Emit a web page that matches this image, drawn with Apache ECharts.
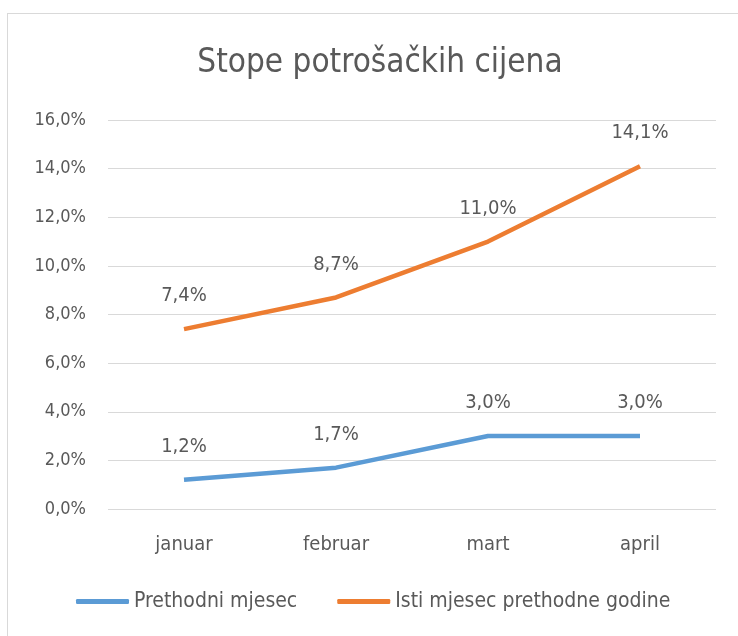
<!DOCTYPE html>
<html>
<head>
<meta charset="utf-8">
<script src="https://cdn.jsdelivr.net/npm/echarts@6/dist/echarts.min.js"></script>
<style>
html, body { margin: 0; padding: 0; background: #fff; }
#frame { position: absolute; left: 7px; top: 13px; width: 740px; height: 640px; border: 1px solid #d9d9d9; box-sizing: border-box; }
#chart { position: absolute; left: 0; top: 0; width: 738px; height: 636px; }
</style>
</head>
<body>
<div id="frame"></div>
<div id="chart"></div>
<script>
const months = ['januar', 'februar', 'mart', 'april']
const prethodniMjesec = [1.2, 1.7, 3.0, 3.0]
const istiMjesecPrethodneGodine = [7.4, 8.7, 11.0, 14.1]
const seriesNames = ['Prethodni mjesec', 'Isti mjesec prethodne godine']

const fontFam = '"Liberation Sans Narrow", "DejaVu Sans Condensed", "Noto Sans", sans-serif'
const fmt = v => v.toFixed(1).replace('.', ',') + '%'

const myChart = echarts.init(document.getElementById('chart'))
let option = {
    animation: false,
    textStyle: { fontFamily: fontFam, color: '#595959' },
    title: {
        text: 'Stope potrošačkih cijena',
        left: 375,
        textAlign: 'center',
        top: 42,
        textStyle: { fontFamily: fontFam, fontSize: 33, fontWeight: 'normal', color: '#595959' }
    },
    grid: { left: 108, right: 22, top: 120, bottom: 127 },
    legend: {
        bottom: 19,
        left: 71,
        itemWidth: 53,
        itemHeight: 5,
        itemGap: 40,
        icon: 'roundRect',
        textStyle: { fontFamily: fontFam, fontSize: 21, color: '#595959' },
        data: seriesNames
    },
    xAxis: {
        type: 'category',
        data: months,
        boundaryGap: true,
        axisLine: { show: false },
        axisTick: { show: false },
        axisLabel: { fontSize: 20, color: '#595959', margin: 26, fontFamily: fontFam }
    },
    yAxis: {
        type: 'value',
        min: 0,
        max: 16,
        interval: 2,
        axisLine: { show: false },
        axisTick: { show: false },
        splitLine: { lineStyle: { color: '#d9d9d9', width: 1 } },
        axisLabel: { fontSize: 18, color: '#595959', margin: 22, formatter: fmt, fontFamily: fontFam }
    },
    series: [
        {
            name: seriesNames[0],
            type: 'line',
            data: prethodniMjesec,
            symbol: 'circle',
            symbolSize: 0,
            lineStyle: { color: '#5b9bd5', width: 4.5 },
            itemStyle: { color: '#5b9bd5' },
            label: { show: true, position: 'top', distance: 23, fontSize: 20, color: '#595959', formatter: p => fmt(p.value), fontFamily: fontFam }
        },
        {
            name: seriesNames[1],
            type: 'line',
            data: istiMjesecPrethodneGodine,
            symbol: 'circle',
            symbolSize: 0,
            lineStyle: { color: '#ed7d31', width: 4.5 },
            itemStyle: { color: '#ed7d31' },
            label: { show: true, position: 'top', distance: 23, fontSize: 20, color: '#595959', formatter: p => fmt(p.value), fontFamily: fontFam }
        }
    ]
}
option && myChart.setOption(option)
</script>
</body>
</html>
